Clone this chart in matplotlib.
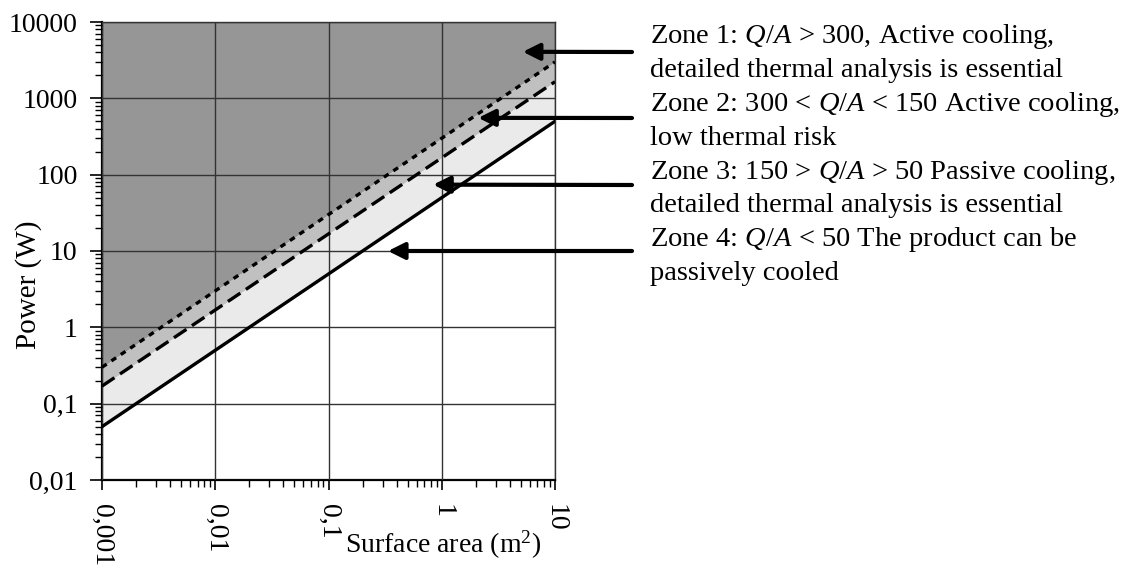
import matplotlib
matplotlib.use("Agg")
import matplotlib.pyplot as plt
import numpy as np

plt.rcParams['font.family'] = 'Liberation Serif'
plt.rcParams['mathtext.fontset'] = 'custom'
plt.rcParams['mathtext.rm'] = 'Liberation Serif'
plt.rcParams['mathtext.it'] = 'Liberation Serif:italic'

# data
area = [0.001, 10]                 # m^2
power_50 = [0.05, 500]             # solid line
power_150 = [0.17, 1650]           # dashed line
power_300 = [0.3, 3000]            # dotted line
y_top = [1e4, 1e4]

xticks = [0.001, 0.01, 0.1, 1, 10]
xtick_labels = ["0,001", "0,01", "0,1", "1", "10"]
yticks = [0.01, 0.1, 1, 10, 100, 1000, 10000]
ytick_labels = ["0,01", "0,1", "1", "10", "100", "1000", "10000"]

# arrow tips (data coords) and zone text
arrow_tips = [(5.2, 4070), (2.1, 555), (0.84, 74), (0.335, 10)]
zone_lines = [
    "Zone 1: $Q/A$ > 300, Active cooling,",
    "detailed thermal analysis is essential",
    "Zone 2: 300 < $Q/A$ < 150 Active cooling,",
    "low thermal risk",
    "Zone 3: 150 > $Q/A$ > 50 Passive cooling,",
    "detailed thermal analysis is essential",
    "Zone 4: $Q/A$ < 50 The product can be",
    "passively cooled",
]

W, H = 1143, 568
fig = plt.figure(figsize=(W/100, H/100), dpi=100)
ax = fig.add_axes([102/W, 1 - 480/H, 453/W, 458/H])
ax.set_xscale('log')
ax.set_yscale('log')
ax.set_xlim(0.001, 10)
ax.set_ylim(0.01, 10000)

ax.fill_between(area, power_300, y_top, color='#969696', lw=0, zorder=1)
ax.fill_between(area, power_150, power_300, color='#c0c0c0', lw=0, zorder=1)
ax.fill_between(area, power_50, power_150, color='#eaeaea', lw=0, zorder=1)

ax.grid(True, which='major', color='#333333', lw=1.0, zorder=2)
ax.set_axisbelow(False)

ax.plot(area, power_300, color='black', lw=2.4, ls=(0, (1.7, 1.7)), zorder=3)
ax.plot(area, power_150, color='black', lw=2.4, ls=(0, (4.5, 2.0)), zorder=3)
ax.plot(area, power_50, color='black', lw=2.4, ls='-', zorder=3)

ax.set_xticks(xticks)
ax.set_xticklabels(xtick_labels, rotation=-90, fontsize=20, va='top', ha='center')
ax.set_yticks(yticks)
ax.set_yticklabels(ytick_labels, fontsize=20)
ax.tick_params(which='major', length=8.5, width=1.2, direction='out', pad=9)
ax.tick_params(axis='x', which='major', length=7.5, pad=10)
ax.tick_params(which='minor', length=5, width=1.0, direction='out')
ax.yaxis.set_minor_locator(matplotlib.ticker.LogLocator(base=10, subs=np.arange(2, 10), numticks=20))
ax.xaxis.set_minor_locator(matplotlib.ticker.LogLocator(base=10, subs=np.arange(2, 10), numticks=20))
ax.yaxis.set_minor_formatter(matplotlib.ticker.NullFormatter())
ax.xaxis.set_minor_formatter(matplotlib.ticker.NullFormatter())

for s in ['left', 'bottom']:
    ax.spines[s].set_linewidth(1.6)
for s in ['top', 'right']:
    ax.spines[s].set_linewidth(1.0)
    ax.spines[s].set_color('#333333')

fig.text(29/W, 1 - 285/H, "Power (W)", rotation=90, fontsize=21, ha='center', va='center')
fig.text(443/W, 1 - 545/H, "Surface area (m$^2$)", fontsize=20, ha='center', va='center')

# arrows
arrow_y = [52, 118, 185, 251]
for (tx, ty), py in zip(arrow_tips, arrow_y):
    ax.annotate("", xy=(tx, ty), xytext=(632, H - py), textcoords='figure pixels',
                arrowprops=dict(arrowstyle='-|>,head_length=0.5,head_width=0.25',
                                mutation_scale=20, lw=3, color='black',
                                shrinkA=0, shrinkB=0))

# zone text
for i, line in enumerate(zone_lines):
    fig.text(650/W, 1 - (43 + i*33.9)/H, line, fontsize=20.5, ha='left', va='baseline')

fig.savefig("out.png", dpi=100)
